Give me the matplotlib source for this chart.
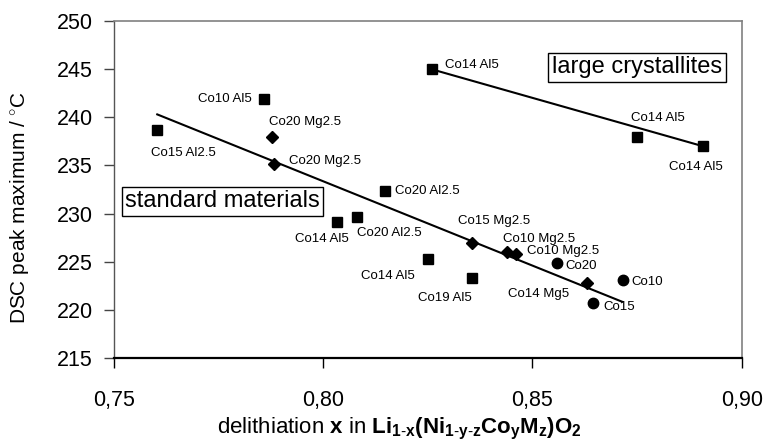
import matplotlib
matplotlib.use("Agg")
import matplotlib.pyplot as plt

plt.rcParams['font.family'] = ['Liberation Sans', 'DejaVu Sans']
plt.rcParams['mathtext.fontset'] = 'custom'
plt.rcParams['mathtext.rm'] = 'Liberation Sans'
plt.rcParams['mathtext.bf'] = 'Liberation Sans:bold'
plt.rcParams['mathtext.it'] = 'Liberation Sans:italic'

# ---- data ----
sq_x = [0.7604, 0.7859, 0.8148, 0.8033, 0.8081, 0.8251, 0.8355, 0.8260, 0.8751, 0.8907]
sq_y = [238.7, 241.9, 232.35, 229.1, 229.6, 225.25, 223.3, 244.98, 237.99, 237.0]
sq_labels = ['Co15 Al2.5', 'Co10 Al5', 'Co20 Al2.5', 'Co14 Al5', 'Co20 Al2.5',
             'Co14 Al5', 'Co19 Al5', 'Co14 Al5', 'Co14 Al5', 'Co14 Al5']

dia_x = [0.7879, 0.7882, 0.8356, 0.8439, 0.8461, 0.8631]
dia_y = [237.99, 235.1, 226.98, 226.05, 225.8, 222.83]
dia_labels = ['Co20 Mg2.5', 'Co20 Mg2.5', 'Co15 Mg2.5', 'Co10 Mg2.5', 'Co10 Mg2.5', 'Co14 Mg5']

circ_x = [0.8560, 0.8716, 0.8646]
circ_y = [224.84, 223.1, 220.69]
circ_labels = ['Co20', 'Co10', 'Co15']

std_line_x = [0.7604, 0.8714]
std_line_y = [240.3, 220.85]
large_line_x = [0.8260, 0.8907]
large_line_y = [244.98, 237.0]

x_ticks = [0.75, 0.80, 0.85, 0.90]
x_tick_labels = ['0,75', '0,80', '0,85', '0,90']
y_ticks = [215, 220, 225, 230, 235, 240, 245, 250]
y_tick_labels = ['215', '220', '225', '230', '235', '240', '245', '250']

# ---- label layout (pixel offsets, alignment) ----
sq_lab_pos = [((26, -23.5), 'center'), ((-12, 0), 'right'), ((10, 0), 'left'),
              ((-15, -16.7), 'center'), ((0, -16), 'left'), ((-13, -17), 'right'),
              ((0, -19.7), 'right'), ((13.4, 4), 'left'), ((20, 18.4), 'center'),
              ((-6.6, -20.7), 'center')]
dia_lab_pos = [((-3.7, 14.7), 'left'), ((15, 3), 'left'), ((21.5, 22), 'center'),
               ((-3.7, 13), 'left'), ((11.4, 3), 'left'), ((-17.7, -11.3), 'right')]
circ_lab_pos = [((7.7, -3), 'left'), ((8.7, -2.3), 'left'), ((10, -4), 'left')]

W, H = 768, 441
fig = plt.figure(figsize=(W / 100, H / 100), dpi=100)
ax = fig.add_axes([113.7 / W, 1 - 358 / H, (741.7 - 113.7) / W, (358 - 21) / H])

ax.plot(std_line_x, std_line_y, color='black', lw=1.5, zorder=2)
ax.plot(large_line_x, large_line_y, color='black', lw=1.5, zorder=2)

ax.plot(sq_x, sq_y, ls='none', marker='s', ms=7.5, color='black', zorder=3)
ax.plot(dia_x, dia_y, ls='none', marker='D', ms=6.5, color='black', zorder=3)
ax.plot(circ_x, circ_y, ls='none', marker='o', ms=7.5, color='black', zorder=3)

lab_fs = 9.5
for xs, ys, labs, pos in [(sq_x, sq_y, sq_labels, sq_lab_pos),
                          (dia_x, dia_y, dia_labels, dia_lab_pos),
                          (circ_x, circ_y, circ_labels, circ_lab_pos)]:
    for x, y, lab, (off, ha) in zip(xs, ys, labs, pos):
        ax.annotate(lab, (x, y), xytext=off, textcoords='offset pixels',
                    ha=ha, va='center', fontsize=lab_fs)

box = dict(boxstyle='square,pad=0.15', facecolor='white', edgecolor='black', lw=1.0)
ax.text(0.7760, 231.3, 'standard materials', ha='center', va='center',
        fontsize=17, bbox=box, zorder=4)
ax.text(0.8750, 245.2, 'large crystallites', ha='center', va='center',
        fontsize=17, bbox=box, zorder=4)

ax.set_xlim(0.75, 0.90)
ax.set_ylim(215, 250)
ax.set_xticks(x_ticks)
ax.set_xticklabels(x_tick_labels)
ax.set_yticks(y_ticks)
ax.set_yticklabels(y_tick_labels)
ax.tick_params(axis='both', direction='out', length=7, width=1.0, labelsize=15.5)
ax.tick_params(axis='x', pad=16, color='black')
ax.tick_params(axis='y', pad=8, color='#444444')

for s in ['top', 'right']:
    ax.spines[s].set_color('#808080')
    ax.spines[s].set_linewidth(1.2)
ax.spines['left'].set_color('#555555')
ax.spines['left'].set_linewidth(1.0)
ax.spines['bottom'].set_color('black')
ax.spines['bottom'].set_linewidth(1.6)

fig.text(20 / W, 1 - 207 / H, 'DSC peak maximum / $^{\\circ}$C', rotation=90,
         ha='center', va='center', fontsize=15)
fig.text(399 / W, 1 - 433 / H,
         r'delithiation $\mathbf{x}$ in $\mathbf{Li_{1\text{-}x}(Ni_{1\text{-}y\text{-}z}Co_{y}M_{z})O_{2}}$',
         ha='center', va='baseline', fontsize=16)

fig.savefig('out.png', dpi=100)
